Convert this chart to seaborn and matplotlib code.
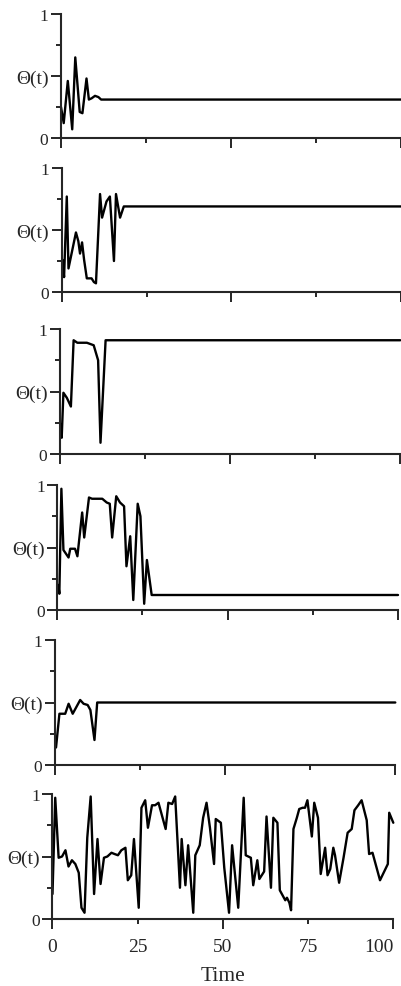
import matplotlib
matplotlib.use("Agg")
import matplotlib.pyplot as plt
import seaborn as sns

sns.set_style("ticks")
plt.rcParams['font.family'] = ['Liberation Serif', 'DejaVu Serif']

# Theta(t) traces, one list of times and one of values per panel
t1 = [0.0, 0.8, 2.0, 3.3, 4.2, 5.5, 6.3, 7.5, 8.2, 9.0, 10.0, 11.0, 11.8, 100]
theta1 = [0.25, 0.12, 0.46, 0.07, 0.65, 0.21, 0.20, 0.48, 0.31, 0.32, 0.34, 0.33, 0.31, 0.31]

t2 = [0.2, 0.7, 1.5, 2.0, 4.2, 4.9, 5.4, 6.0, 6.6, 7.4, 8.8, 9.5, 10.1, 11.3, 11.9,
      13.2, 14.2, 15.4, 16.0, 17.2, 18.3, 100]
theta2 = [0.26, 0.12, 0.77, 0.19, 0.48, 0.41, 0.31, 0.40, 0.26, 0.11, 0.11, 0.08,
          0.07, 0.79, 0.60, 0.73, 0.77, 0.25, 0.79, 0.60, 0.69, 0.69]

t3 = [0.2, 0.5, 1.0, 2.0, 3.2, 4.0, 5.1, 7.9, 9.9, 11.2, 11.9, 13.4, 100]
theta3 = [0.24, 0.13, 0.49, 0.45, 0.38, 0.91, 0.89, 0.89, 0.87, 0.75, 0.09, 0.91, 0.91]

t4 = [0.3, 0.6, 1.2, 1.8, 3.3, 3.8, 5.2, 5.9, 7.3, 7.9, 9.3, 10.2, 13.2, 14.5, 15.4,
      16.1, 17.3, 18.4, 19.6, 20.3, 21.4, 22.3, 23.6, 24.4, 25.5, 26.3, 27.7, 100]
theta4 = [0.20, 0.13, 0.97, 0.48, 0.42, 0.49, 0.49, 0.43, 0.78, 0.58, 0.90, 0.89,
          0.89, 0.86, 0.85, 0.58, 0.91, 0.86, 0.83, 0.35, 0.59, 0.08, 0.85, 0.75,
          0.05, 0.40, 0.12, 0.12]

t5 = [0.3, 1.3, 3.0, 4.0, 5.2, 6.4, 7.4, 8.4, 9.6, 10.4, 11.6, 12.4, 100]
theta5 = [0.14, 0.41, 0.41, 0.49, 0.41, 0.47, 0.52, 0.49, 0.48, 0.44, 0.20, 0.50, 0.50]

t6 = [0.0, 0.8, 1.8, 2.8, 3.8, 4.7, 5.7, 6.7, 7.7, 8.5, 9.4, 10.2, 11.2, 12.2, 13.2,
      14.1, 15.1, 16.1, 17.3, 18.2, 19.2, 20.2, 21.4, 22.1, 23.1, 23.9, 25.3, 26.1,
      27.2, 28.0, 29.2, 30.1, 31.1, 32.3, 33.2, 34.0, 35.1, 36.0, 37.4, 37.9, 39.0,
      39.8, 41.3, 41.9, 43.2, 44.2, 45.2, 46.2, 47.4, 47.9, 49.4, 50.4, 51.8, 52.7,
      54.5, 56.1, 56.7, 58.2, 58.9, 60.1, 60.7, 62.1, 62.8, 64.1, 64.8, 66.0, 66.7,
      67.5, 68.3, 68.8, 69.5, 70.0, 70.7, 71.7, 72.4, 73.4, 74.1, 74.8, 76.1, 76.8,
      77.9, 78.7, 80.0, 80.7, 81.5, 82.4, 82.9, 84.1, 85.4, 86.6, 87.8, 88.6, 89.7,
      90.7, 92.2, 92.9, 93.9, 96.1, 98.4, 98.8, 100.0]
theta6 = [0.20, 0.97, 0.49, 0.50, 0.55, 0.42, 0.47, 0.44, 0.37, 0.09, 0.05, 0.65,
          0.98, 0.20, 0.64, 0.28, 0.49, 0.50, 0.53, 0.52, 0.51, 0.55, 0.57, 0.31,
          0.35, 0.64, 0.09, 0.89, 0.95, 0.73, 0.91, 0.91, 0.93, 0.81, 0.72, 0.93,
          0.92, 0.98, 0.25, 0.64, 0.27, 0.59, 0.05, 0.51, 0.59, 0.81, 0.93, 0.73,
          0.44, 0.80, 0.77, 0.41, 0.05, 0.59, 0.09, 0.97, 0.51, 0.49, 0.27, 0.47,
          0.32, 0.38, 0.82, 0.25, 0.81, 0.77, 0.23, 0.19, 0.15, 0.17, 0.13, 0.07,
          0.72, 0.81, 0.88, 0.89, 0.89, 0.95, 0.66, 0.93, 0.81, 0.36, 0.57, 0.35,
          0.40, 0.57, 0.51, 0.29, 0.49, 0.69, 0.72, 0.87, 0.91, 0.95, 0.79, 0.52,
          0.53, 0.31, 0.44, 0.85, 0.77]

series = [(t1, theta1), (t2, theta2), (t3, theta3), (t4, theta4), (t5, theta5), (t6, theta6)]

x_major = [0, 50, 100]
x_minor = [25, 75]
x_major_labels = ['0', '50', '100']
x_minor_labels = ['25', '75']
y_major = [0, 0.5, 1]
y_minor = [0.25, 0.75]
y_labels = ['0', 'Θ(t)', '1']

# panel boxes in pixels (x at t=0, x at t=100, y at 0, y at 1) - the scan is a bit skewed
boxes = [(61, 401, 139, 15), (61.7, 401, 293, 169), (60, 400.3, 455, 330),
         (57.3, 398, 611, 486), (55, 395.3, 766, 641), (52.5, 393.3, 920, 795)]

W, H = 402, 987
fig = plt.figure(figsize=(W / 100, H / 100), dpi=100)

for i, ((t, th), (x0, x1, y0, y1)) in enumerate(zip(series, boxes)):
    ax = fig.add_axes([x0 / W, 1 - y0 / H, (x1 - x0) / W, (y0 - y1) / H])
    sns.lineplot(x=t, y=th, ax=ax, color='black', linewidth=1.7,
                 estimator=None, clip_on=False)
    ax.set_xlim(0, 100)
    ax.set_ylim(0, 1)
    sns.despine(ax=ax)
    for s in ['left', 'bottom']:
        ax.spines[s].set_linewidth(1.5)

    ax.set_yticks(y_major)
    ax.set_yticklabels(y_labels)
    ax.set_yticks(y_minor, minor=True)

    last = i == len(series) - 1
    if last:
        ax.set_xticks(x_major, labels=x_major_labels)
        ax.set_xticks(x_minor, labels=x_minor_labels, minor=True)
        ax.set_xlabel('Time', fontsize=15.5, labelpad=8)
    else:
        ax.set_xticks(x_major, labels=['', '', ''])
        ax.set_xticks(x_minor, minor=True)
        ax.set_xlabel('')
    ax.set_ylabel('')

    ax.tick_params(which='major', length=7, width=1.4, direction='out')
    ax.tick_params(which='minor', length=3.5, width=1.4, direction='out')
    ax.tick_params(axis='y', which='major', labelsize=12.5, pad=2)
    ax.tick_params(axis='x', which='major', labelsize=14, pad=6.5)
    ax.tick_params(axis='x', which='minor', labelsize=14, pad=10)
    ax.get_yticklabels()[1].set_fontsize(14)
    if last:
        ax.get_xticklabels()[2].set_horizontalalignment('right')

plt.savefig('out.png', dpi=100)
plt.close()
